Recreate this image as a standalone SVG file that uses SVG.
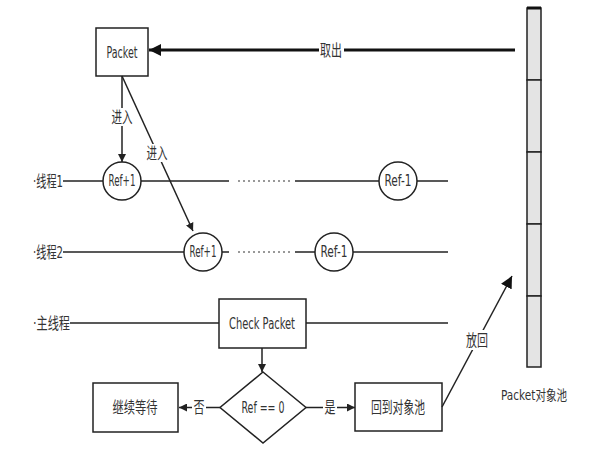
<svg xmlns="http://www.w3.org/2000/svg" width="594" height="464" viewBox="0 0 594 464">
<defs>
<style>
text{font-family:"DejaVu Sans","Noto Sans CJK SC",sans-serif;font-size:16px;fill:#333;text-anchor:middle;dominant-baseline:central}
.box{fill:#fff;stroke:#222;stroke-width:1.5}
.ln{stroke:#222;stroke-width:1.5;fill:none}
.thick{stroke:#111;stroke-width:3;fill:none}
.dot{stroke:#333;stroke-width:1;stroke-dasharray:2 3;fill:none}
.cell{fill:#e4e4e4;stroke:#222;stroke-width:1.5}
.lbl{fill:#fff;stroke:none}
</style>
<marker id="a" viewBox="0 0 10 10" refX="10" refY="5" markerWidth="8" markerHeight="8" markerUnits="userSpaceOnUse" orient="auto"><path d="M0,0L10,5L0,10z" fill="#222"/></marker>
<marker id="ab" viewBox="0 0 10 10" refX="10" refY="5" markerWidth="12" markerHeight="12" markerUnits="userSpaceOnUse" orient="auto"><path d="M0,0L10,5L0,10z" fill="#111"/></marker>
</defs>

<g id="threads">
<text x="48" y="181" textLength="30" lengthAdjust="spacingAndGlyphs">·线程1</text>
<line class="ln" x1="63" y1="181" x2="103" y2="181"/>
<line class="ln" x1="141" y1="181" x2="229" y2="181"/>
<line class="dot" x1="238" y1="181" x2="292" y2="181"/>
<line class="ln" x1="295" y1="181" x2="379" y2="181"/>
<line class="ln" x1="417" y1="181" x2="448" y2="181"/>
<text x="48" y="252" textLength="30" lengthAdjust="spacingAndGlyphs">·线程2</text>
<line class="ln" x1="63" y1="252" x2="184" y2="252"/>
<line class="ln" x1="222" y1="252" x2="229" y2="252"/>
<line class="dot" x1="238" y1="252" x2="292" y2="252"/>
<line class="ln" x1="295" y1="252" x2="315" y2="252"/>
<line class="ln" x1="353" y1="252" x2="448" y2="252"/>
<text x="51.5" y="323" textLength="37" lengthAdjust="spacingAndGlyphs">·主线程</text>
<line class="ln" x1="70" y1="323" x2="219" y2="323"/>
<line class="ln" x1="306" y1="323" x2="448" y2="323"/>
</g>

<g id="pool">
<rect class="cell" x="527" y="8" width="14" height="72"/>
<rect class="cell" x="527" y="80" width="14" height="72"/>
<rect class="cell" x="527" y="152" width="14" height="72"/>
<rect class="cell" x="527" y="224" width="14" height="72"/>
<rect class="cell" x="527" y="296" width="14" height="71"/>
<line x1="527" y1="8" x2="541" y2="8" stroke="#111" stroke-width="3"/>
<text x="534" y="395" style="font-size:14px" textLength="66" lengthAdjust="spacingAndGlyphs">Packet对象池</text>
</g>

<g id="packet">
<rect class="box" x="96" y="28" width="52" height="48"/>
<text x="122" y="52" textLength="31" lengthAdjust="spacingAndGlyphs">Packet</text>
</g>

<g id="ref1a"><circle class="box" cx="122" cy="181" r="19"/><text x="122" y="180" textLength="27" lengthAdjust="spacingAndGlyphs">Ref+1</text></g>
<g id="ref1b"><circle class="box" cx="398" cy="181" r="19"/><text x="398" y="180" textLength="27" lengthAdjust="spacingAndGlyphs">Ref-1</text></g>
<g id="ref2a"><circle class="box" cx="203" cy="252" r="19"/><text x="203" y="251" textLength="27" lengthAdjust="spacingAndGlyphs">Ref+1</text></g>
<g id="ref2b"><circle class="box" cx="334" cy="252" r="19"/><text x="334" y="251" textLength="27" lengthAdjust="spacingAndGlyphs">Ref-1</text></g>

<g id="check"><rect class="box" x="219" y="299" width="87" height="49"/><text x="262" y="323" textLength="66" lengthAdjust="spacingAndGlyphs">Check Packet</text></g>
<g id="decide"><path class="box" d="M263,372L306,407.5L263,443L220,407.5Z"/><text x="263" y="407" textLength="43" lengthAdjust="spacingAndGlyphs">Ref == 0</text></g>
<g id="wait"><rect class="box" x="93" y="383" width="85" height="49"/><text x="135" y="407" textLength="45" lengthAdjust="spacingAndGlyphs">继续等待</text></g>
<g id="back"><rect class="box" x="355" y="383" width="87" height="48"/><text x="398" y="407" textLength="54" lengthAdjust="spacingAndGlyphs">回到对象池</text></g>

<g id="connectors">
<line class="thick" x1="515" y1="50" x2="149" y2="50" marker-end="url(#ab)"/>
<rect class="lbl" x="319" y="41" width="25" height="18"/>
<text x="331" y="50" textLength="22" lengthAdjust="spacingAndGlyphs">取出</text>
<line class="ln" x1="122" y1="76" x2="122" y2="162" stroke-width="1.2" marker-end="url(#a)"/>
<rect class="lbl" x="109" y="108" width="26" height="18"/>
<text x="122" y="117" textLength="21" lengthAdjust="spacingAndGlyphs">进入</text>
<line class="ln" x1="122" y1="76" x2="193" y2="231" stroke-width="1.2" marker-end="url(#a)"/>
<rect class="lbl" x="144" y="144" width="26" height="18"/>
<text x="157" y="153" textLength="21" lengthAdjust="spacingAndGlyphs">进入</text>
<line class="ln" x1="262" y1="348" x2="262" y2="372" stroke-width="1.2" marker-end="url(#a)"/>
<line class="ln" x1="220" y1="407.5" x2="179" y2="407.5" stroke-width="2" marker-end="url(#a)"/>
<rect class="lbl" x="192" y="399" width="14" height="17"/>
<text x="199" y="407" textLength="11" lengthAdjust="spacingAndGlyphs">否</text>
<line class="ln" x1="306" y1="407.5" x2="355" y2="407.5" stroke-width="2" marker-end="url(#a)"/>
<rect class="lbl" x="323" y="399" width="14" height="17"/>
<text x="330" y="407" textLength="11" lengthAdjust="spacingAndGlyphs">是</text>
<line class="ln" x1="442" y1="407" x2="512" y2="276" stroke-width="2.5" marker-end="url(#ab)"/>
<rect class="lbl" x="463" y="330" width="28" height="20"/>
<text x="477" y="340" textLength="22" lengthAdjust="spacingAndGlyphs">放回</text>
</g>
</svg>
